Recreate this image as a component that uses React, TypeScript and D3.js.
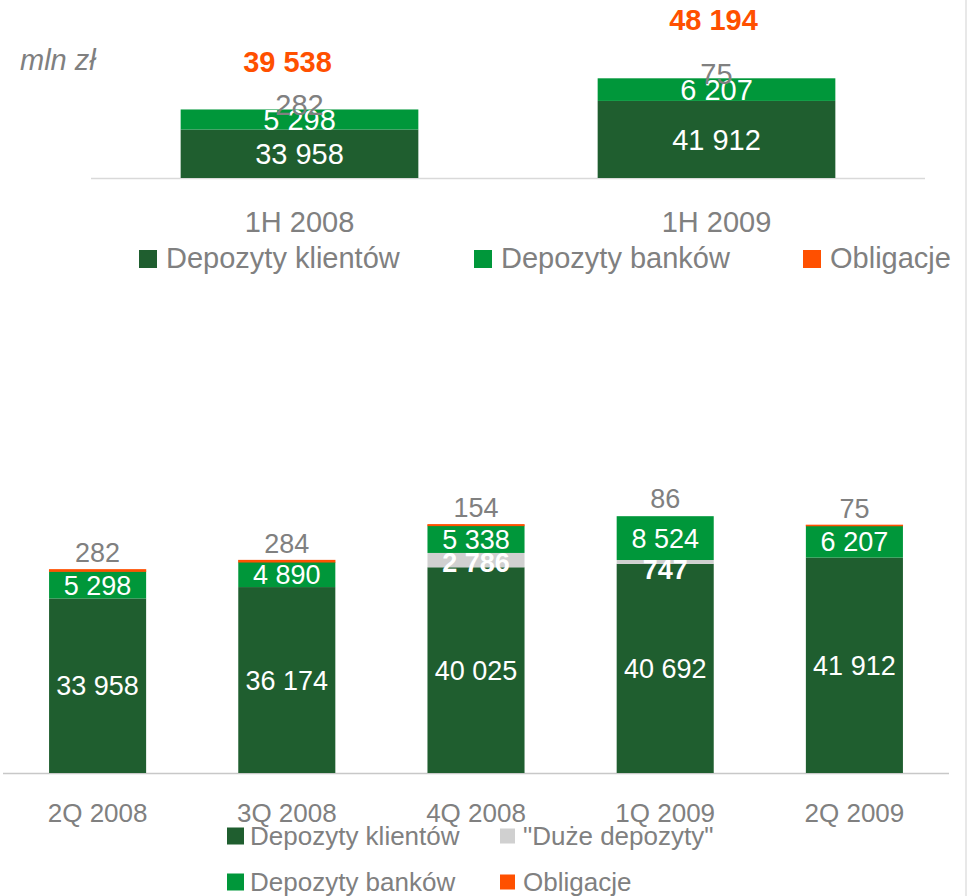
import React from 'react';
import * as d3 from 'd3';

// ---- Data: top panel (half-years) ----
const topCategories = ['1H 2008', '1H 2009'];
const topKlienci = [33958, 41912];
const topBanki = [5298, 6207];
const topObligacje = [282, 75];
const topTotals = [39538, 48194];

// ---- Data: bottom panel (quarters) ----
const bottomCategories = ['2Q 2008', '3Q 2008', '4Q 2008', '1Q 2009', '2Q 2009'];
const bottomKlienci = [33958, 36174, 40025, 40692, 41912];
const bottomDuze = [0, 0, 2786, 747, 0];
const bottomBanki = [5298, 4890, 5338, 8524, 6207];
const bottomObligacje = [282, 284, 154, 86, 75];

const unitLabel = 'mln zł';
const topLegendLabels = ['Depozyty klientów', 'Depozyty banków', 'Obligacje'];
const bottomLegendLabels = ['Depozyty klientów', '"Duże depozyty"', 'Depozyty banków', 'Obligacje'];

const C_DARK = '#1F5E2F';
const C_GREEN = '#00973A';
const C_GREY = '#D0D0D0';
const C_ORANGE = '#FF5000';
const C_TEXT = '#808080';
const FONT = '"Liberation Sans", Arial, sans-serif';

const fmt = (v: number) => d3.format(',')(v).replace(/,/g, ' ');

export default function App() {
  const W = 967, H = 896;

  // Top panel scales
  const xTop = d3.scaleBand<string>().domain(topCategories).range([91, 925]).paddingInner(0.43).paddingOuter(0.215);
  const yTop = d3.scaleLinear().domain([20500, 50000]).range([178, 178 - 29500 * 0.0036]);
  const topBase = yTop(20500);

  // Bottom panel scales
  const xBot = d3.scaleBand<string>().domain(bottomCategories).range([3, 949]).paddingInner(0.487).paddingOuter(0.2435);
  const yBot = d3.scaleLinear().domain([0, 60000]).range([773, 773 - 60000 * 0.00514]);

  const fsTop = 29;
  const fsBot = 27;
  const mid = (a: number, b: number) => (a + b) / 2;
  const cap = (fs: number) => fs * 0.36;

  const topBars = topCategories.map((c, i) => {
    const x = xTop(c)!;
    const w = xTop.bandwidth();
    const y0 = topBase;
    const kTop = yTop(topKlienci[i]);
    const bTop = yTop(topKlienci[i] + topBanki[i]);
    const oTop = yTop(topKlienci[i] + topBanki[i] + topObligacje[i]);
    const cx = x + w / 2;
    return (
      <g key={c}>
        <rect x={x} y={kTop} width={w} height={y0 - kTop} fill={C_DARK} />
        <rect x={x} y={oTop} width={w} height={kTop - oTop} fill={C_GREEN} />
        <text x={cx} y={mid(y0, kTop) + cap(fsTop)} textAnchor="middle" fill="#fff" fontSize={fsTop}>{fmt(topKlienci[i])}</text>
        <text x={cx} y={mid(kTop, bTop) + cap(fsTop)} textAnchor="middle" fill="#fff" fontSize={fsTop}>{fmt(topBanki[i])}</text>
        <text x={cx} y={oTop - 5 + cap(fsTop)} textAnchor="middle" fill={C_TEXT} fontSize={fsTop}>{fmt(topObligacje[i])}</text>
        <text x={cx - (i === 0 ? 12 : 3)} y={yTop(topTotals[i] * 1.34) + cap(fsTop)} textAnchor="middle" fill={C_ORANGE} fontSize={fsTop} fontWeight="bold">{fmt(topTotals[i])}</text>
        <text x={cx} y={222 + cap(fsTop)} textAnchor="middle" fill={C_TEXT} fontSize={fsTop}>{c}</text>
      </g>
    );
  });

  const botBars = bottomCategories.map((c, i) => {
    const x = xBot(c)!;
    const w = xBot.bandwidth();
    const cx = x + w / 2;
    const y0 = yBot(0);
    const kTop = yBot(bottomKlienci[i]);
    const dTop = yBot(bottomKlienci[i] + bottomDuze[i]);
    const bTop = yBot(bottomKlienci[i] + bottomDuze[i] + bottomBanki[i]);
    const oTop = yBot(bottomKlienci[i] + bottomDuze[i] + bottomBanki[i] + bottomObligacje[i]);
    return (
      <g key={c}>
        <rect x={x} y={kTop} width={w} height={y0 - kTop} fill={C_DARK} />
        {bottomDuze[i] > 0 && <rect x={x} y={dTop} width={w} height={kTop - dTop} fill={C_GREY} />}
        <rect x={x} y={bTop} width={w} height={dTop - bTop} fill={C_GREEN} />
        {i !== 3 && (
          <rect x={x + 0.5} y={oTop} width={w - 1} height={Math.max(0.1, bTop - oTop)} fill={C_ORANGE} stroke={C_ORANGE} strokeWidth={1.2} />
        )}
        <text x={cx} y={mid(y0, kTop) + cap(fsBot)} textAnchor="middle" fill="#fff" fontSize={fsBot}>{fmt(bottomKlienci[i])}</text>
        <text x={cx} y={mid(dTop, bTop) + cap(fsBot)} textAnchor="middle" fill="#fff" fontSize={fsBot}>{fmt(bottomBanki[i])}</text>
        {bottomDuze[i] > 0 && (
          <text x={cx} y={Math.max(mid(kTop, dTop), dTop + 9) + cap(fsBot)} textAnchor="middle" fill="#fff" fontSize={fsBot} fontWeight="bold">{fmt(bottomDuze[i])}</text>
        )}
        <text x={cx} y={oTop - 17 + cap(fsBot)} textAnchor="middle" fill={C_TEXT} fontSize={fsBot}>{fmt(bottomObligacje[i])}</text>
        <text x={cx} y={813 + cap(26)} textAnchor="middle" fill={C_TEXT} fontSize={26}>{c}</text>
      </g>
    );
  });

  const topLegendColors = [C_DARK, C_GREEN, C_ORANGE];
  const topLegendX = [139, 474, 803];
  const bottomLegendColors = [C_DARK, C_GREY, C_GREEN, C_ORANGE];

  return (
    <svg width={W} height={H} style={{ position: 'absolute', left: 0, top: 0, fontFamily: FONT }}>
      <rect x={0} y={0} width={W} height={H} fill="#fff" />
      <line x1={966} x2={966} y1={0} y2={H} stroke="#D9D9D9" strokeWidth={1.2} />

      {/* Top panel */}
      <text x={20} y={60 + cap(29)} fill={C_TEXT} fontSize={29} fontStyle="italic">{unitLabel}</text>
      <line x1={91} x2={925} y1={topBase + 0.5} y2={topBase + 0.5} stroke="#D9D9D9" strokeWidth={1.5} />
      {topBars}
      {topLegendLabels.map((l, i) => (
        <g key={l}>
          <rect x={topLegendX[i]} y={250} width={18} height={18} fill={topLegendColors[i]} />
          <text x={topLegendX[i] + 27} y={258 + cap(fsTop)} fill={C_TEXT} fontSize={fsTop}>{l}</text>
        </g>
      ))}

      {/* Bottom panel */}
      <line x1={3} x2={949} y1={773.5} y2={773.5} stroke="#C8C8C8" strokeWidth={1.5} />
      {botBars}
      {bottomLegendLabels.map((l, i) => {
        const col = i % 2;
        const row = Math.floor(i / 2);
        const sx = col === 0 ? 227 : 500;
        const cy = row === 0 ? 836 : 882;
        const sz = col === 0 ? 17 : 15;
        return (
          <g key={l}>
            <rect x={sx} y={cy - sz / 2} width={sz} height={sz} fill={bottomLegendColors[i]} />
            <text x={sx + 23} y={cy + cap(26)} fill={C_TEXT} fontSize={26}>{l}</text>
          </g>
        );
      })}
    </svg>
  );
}
